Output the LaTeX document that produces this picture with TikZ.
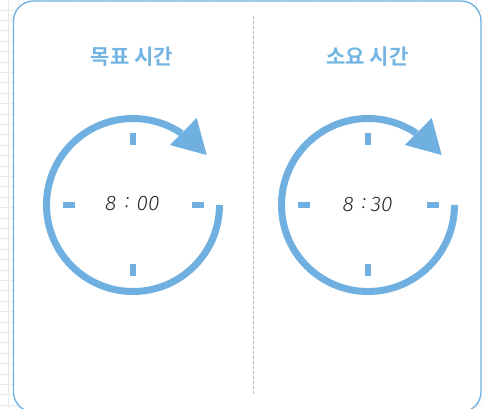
\documentclass[tikz,border=0pt]{standalone}
\usepackage{fontspec}
\newfontfamily\krfont{Noto Sans CJK KR Bold}
\newfontfamily\handfont{Fira Sans Light}
\definecolor{clockblue}{HTML}{6FB0E0}
\definecolor{titleblue}{HTML}{74B4E3}
\definecolor{gridgray}{HTML}{EAEAEA}
\definecolor{dividergray}{HTML}{B8B8B8}
\begin{document}
\begin{tikzpicture}[x=1pt,y=1pt,
  ring/.style={draw=clockblue,line width=7pt},
  tick/.style={draw=clockblue,line width=6pt},
  arrowhead/.style={fill=clockblue},
  titletext/.style={text=titleblue,font=\krfont\fontsize{21}{24}\selectfont,inner sep=0pt},
  timetext/.style={text=black!85,font=\handfont\itshape\fontsize{21}{24}\selectfont,inner sep=0pt}]
\useasboundingbox (0,0) rectangle (482,408);
\begin{scope}
\clip (0,0) rectangle (482,408);
% grid background
\foreach \i in {0,...,46} {
  \draw[gridgray,line width=0.8pt] ({8.3+10.4*\i-10.4},0) -- ({8.3+10.4*\i-10.4},408);
}
\foreach \j in {0,...,40} {
  \draw[gridgray,line width=0.8pt] (0,{408-10-10.4*\j}) -- (482,{408-10-10.4*\j});
}
% main box
\draw[clockblue,fill=white,line width=1.3pt,rounded corners=20pt] (13.5,-4) rectangle (481,407);
\end{scope}
% divider
\coordinate (dtop) at (253.3,392);
\coordinate (dbot) at (253.3,12);
\draw[dividergray,line width=1.3pt,dash pattern=on 3pt off 2pt] (dtop) -- (dbot);
% titles
\node[titletext] (t1) at (132,351) {목표 시간};
\node[titletext] (t2) at (367.5,351) {소요 시간};
% clocks
\foreach \cx/\nm in {133/a,368/b} {
  \coordinate (c\nm) at (\cx,203);
  \draw[ring] ([shift={(86.5,0)}]c\nm) arc[start angle=0,end angle=-304,radius=86.5];
  \fill[arrowhead] ([shift={(73.7,50)}]c\nm) -- ([shift={(63.7,87)}]c\nm) -- ([shift={(37,60)}]c\nm) -- cycle;
  \draw[tick] ([shift={(0,60)}]c\nm) -- ([shift={(0,72)}]c\nm);
  \draw[tick] ([shift={(0,-59)}]c\nm) -- ([shift={(0,-71)}]c\nm);
  \draw[tick] ([shift={(59,0)}]c\nm) -- ([shift={(71,0)}]c\nm);
  \draw[tick] ([shift={(-58,0)}]c\nm) -- ([shift={(-70,0)}]c\nm);
}
% times
\node[timetext] (a8) at (110.8,204) {8};
\node[timetext] (acol) at (127.3,205) {:};
\node[timetext] (a00) at (148,204) {00};
\node[timetext] (b8) at (348.3,203) {8};
\node[timetext] (bcol) at (364,204) {:};
\node[timetext] (b30) at (381.7,203) {30};
\end{tikzpicture}
\end{document}
